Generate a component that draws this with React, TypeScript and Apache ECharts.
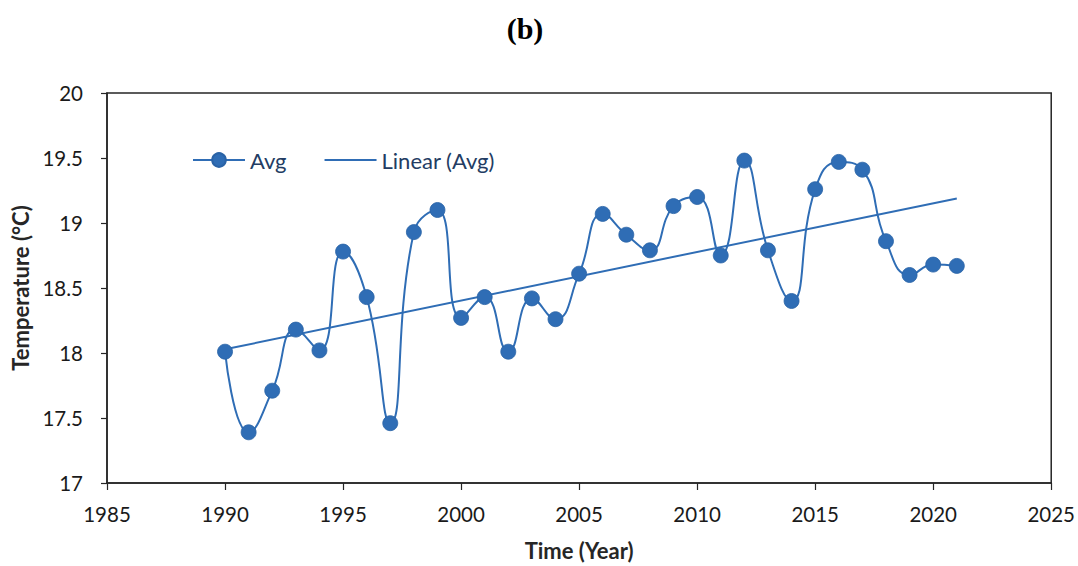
import React, { useEffect, useRef } from "react";
import * as echarts from "echarts";

const years: number[] = [
  1990, 1991, 1992, 1993, 1994, 1995, 1996, 1997, 1998, 1999, 2000,
  2001, 2002, 2003, 2004, 2005, 2006, 2007, 2008, 2009, 2010,
  2011, 2012, 2013, 2014, 2015, 2016, 2017, 2018, 2019, 2020, 2021,
];
const avgTemp: number[] = [
  18.01, 17.39, 17.71, 18.18, 18.02, 18.78, 18.43, 17.46, 18.93, 19.1, 18.27,
  18.43, 18.01, 18.42, 18.26, 18.61, 19.07, 18.91, 18.79, 19.13, 19.2,
  18.75, 19.48, 18.79, 18.4, 19.26, 19.47, 19.41, 18.86, 18.6, 18.68, 18.67,
];
const seriesNames: string[] = ["Avg", "Linear (Avg)"];
const titleText = "(b)";
const xAxisTitle = "Time (Year)";
const yAxisTitle = "Temperature (°C)";

function linearFit(xs: number[], ys: number[]) {
  const n = xs.length;
  const mx = xs.reduce((a, b) => a + b, 0) / n;
  const my = ys.reduce((a, b) => a + b, 0) / n;
  let sxy = 0;
  let sxx = 0;
  for (let i = 0; i < n; i++) {
    sxy += (xs[i] - mx) * (ys[i] - my);
    sxx += (xs[i] - mx) * (xs[i] - mx);
  }
  const slope = sxy / sxx;
  const intercept = my - slope * mx;
  return (x: number) => intercept + slope * x;
}

export default function App() {
  const ref = useRef<HTMLDivElement>(null);
  useEffect(() => {
    if (!ref.current) return;
    const chart = echarts.init(ref.current, undefined, { renderer: "svg" });
    const fit = linearFit(years, avgTemp);
    const x0 = years[0];
    const x1 = years[years.length - 1];
    const blue = "#2f6db5";
    const axisColor = "#262626";
    const font = "Lato, 'Open Sans', sans-serif";
    chart.setOption({
      animation: false,
      backgroundColor: "#ffffff",
      graphic: [
        {
          type: "text",
          x: 525,
          y: 28,
          style: {
            text: titleText,
            font: "bold 30px 'Liberation Serif', 'DejaVu Serif', serif",
            fill: "#000",
            textAlign: "center",
            textVerticalAlign: "middle",
          },
        },
      ],
      legend: {
        left: 187,
        top: 144,
        itemWidth: 52,
        itemHeight: 17,
        itemGap: 38,
        data: [
          { name: seriesNames[0] },
          { name: seriesNames[1], icon: "path://M0,0H52V2H0Z" },
        ],
        textStyle: { fontFamily: font, fontSize: 22, color: "#233c63" },
      },
      grid: {
        left: 107,
        right: 25,
        top: 93,
        bottom: 80,
        show: true,
        borderColor: axisColor,
        borderWidth: 1.5,
        backgroundColor: "transparent",
      },
      xAxis: {
        type: "value",
        min: 1985,
        max: 2025,
        interval: 5,
        name: xAxisTitle,
        nameLocation: "middle",
        nameGap: 56,
        nameTextStyle: { fontFamily: font, fontSize: 22, fontWeight: "bold", color: axisColor },
        axisLine: { show: true, lineStyle: { color: axisColor, width: 1.5 } },
        axisTick: { show: true, length: 7, lineStyle: { color: axisColor, width: 1.2 } },
        axisLabel: {
          fontFamily: font,
          fontSize: 20.5,
          color: "#1a1a1a",
          margin: 20,
          formatter: (v: number) => String(v),
        },
        splitLine: { show: false },
      },
      yAxis: {
        type: "value",
        min: 17,
        max: 20,
        interval: 0.5,
        name: yAxisTitle,
        nameLocation: "middle",
        nameGap: 75,
        nameRotate: 90,
        nameTextStyle: { fontFamily: font, fontSize: 22, fontWeight: "bold", color: axisColor },
        axisLine: { show: true, lineStyle: { color: axisColor, width: 1.5 } },
        axisTick: { show: true, length: 6, lineStyle: { color: axisColor, width: 1.2 } },
        axisLabel: {
          fontFamily: font,
          fontSize: 20.5,
          color: "#1a1a1a",
          margin: 24,
          formatter: (v: number) => String(v),
        },
        splitLine: { show: false },
      },
      series: [
        {
          name: seriesNames[0],
          type: "line",
          data: years.map((y, i) => [y, avgTemp[i]]),
          smooth: 0.5,
          symbol: "circle",
          symbolSize: 15,
          lineStyle: { color: blue, width: 2 },
          itemStyle: { color: blue, borderColor: "#2a63a6", borderWidth: 0.8 },
          z: 3,
        },
        {
          name: seriesNames[1],
          type: "line",
          data: [
            [x0, fit(x0)],
            [x1, fit(x1)],
          ],
          symbol: "none",
          lineStyle: { color: blue, width: 2 },
          itemStyle: { color: blue },
          z: 2,
        },
      ],
    });
    return () => chart.dispose();
  }, []);
  return (
    <div
      ref={ref}
      style={{ position: "fixed", left: 0, top: 0, width: 1078, height: 566 }}
    />
  );
}
